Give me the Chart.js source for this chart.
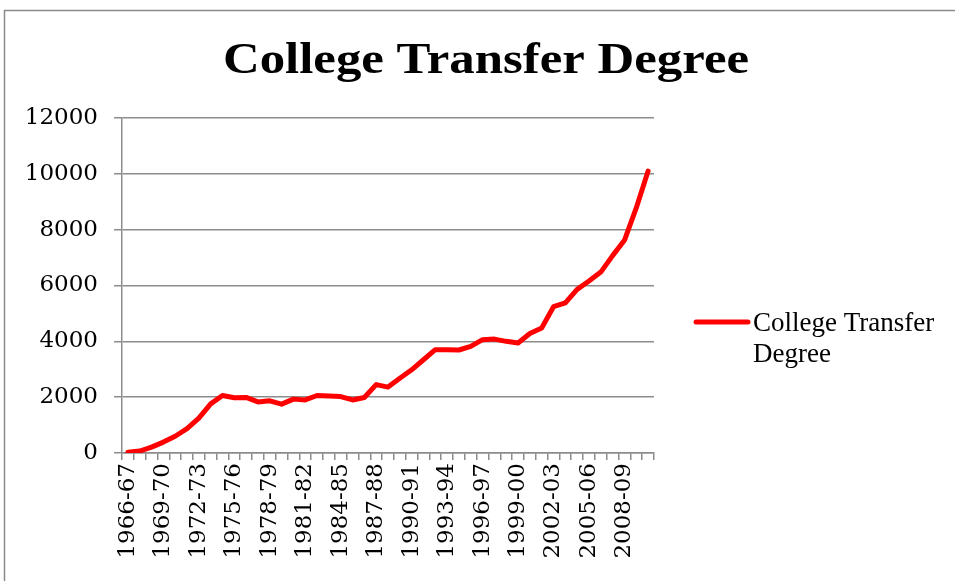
<!DOCTYPE html>
<html>
<head>
<meta charset="utf-8">
<script src="https://cdn.jsdelivr.net/npm/chart.js@4/dist/chart.umd.min.js"></script>
<style>
html,body{margin:0;padding:0;background:#fff;}
#wrap{position:absolute;left:0;top:0;width:955px;height:581px;}
</style>
</head>
<body>
<div id="wrap"><canvas id="c" width="955" height="581"></canvas></div>
<script>
const chartTitle = "College Transfer Degree";
const seriesName = "College Transfer Degree";
const legendLines = ["College Transfer", "Degree"];
const categories = [
 "1966-67","1967-68","1968-69","1969-70","1970-71","1971-72","1972-73","1973-74","1974-75",
 "1975-76","1976-77","1977-78","1978-79","1979-80","1980-81","1981-82","1982-83","1983-84",
 "1984-85","1985-86","1986-87","1987-88","1988-89","1989-90","1990-91","1991-92","1992-93",
 "1993-94","1994-95","1995-96","1996-97","1997-98","1998-99","1999-00","2000-01","2001-02",
 "2002-03","2003-04","2004-05","2005-06","2006-07","2007-08","2008-09","2009-10","2010-11"
];
const values = [
 30, 70, 210, 390, 600, 870, 1250, 1760, 2060,
 1980, 1990, 1830, 1870, 1750, 1930, 1900, 2060, 2040,
 2020, 1900, 1990, 2450, 2360, 2680, 2980, 3340, 3700,
 3700, 3690, 3820, 4060, 4080, 4000, 3940, 4280, 4480,
 5240, 5380, 5860, 6160, 6480, 7070, 7620, 8780, 10100
];
const yTicks = [0, 2000, 4000, 6000, 8000, 10000, 12000];

const GRID = '#8c8c8c';

const decor = {
  id: 'decor',
  beforeDraw(chart) {
    const ctx = chart.ctx;
    ctx.save();
    ctx.fillStyle = '#fff';
    ctx.fillRect(0, 0, chart.width, chart.height);
    ctx.strokeStyle = '#8a8a8a';
    ctx.lineWidth = 1.5;
    ctx.strokeRect(4.5, 10.5, 1000, 700);
    ctx.restore();
  },
  afterDraw(chart) {
    const ctx = chart.ctx;
    ctx.save();
    // title
    ctx.fillStyle = '#000';
    ctx.font = 'bold 45px "Liberation Serif"';
    ctx.textAlign = 'center';
    ctx.textBaseline = 'alphabetic';
    ctx.translate(486, 73);
    ctx.scale(1.13, 1);
    ctx.fillText(chartTitle, 0, 0);
    ctx.setTransform(1, 0, 0, 1, 0, 0);
    // legend
    ctx.strokeStyle = chart.data.datasets[0].borderColor;
    ctx.lineWidth = 5;
    ctx.lineCap = 'round';
    ctx.beginPath();
    ctx.moveTo(696, 322);
    ctx.lineTo(748, 322);
    ctx.stroke();
    ctx.font = '27px "Liberation Serif"';
    ctx.textAlign = 'left';
    ctx.fillText(legendLines[0], 753, 331);
    ctx.fillText(legendLines[1], 753, 362);
    ctx.restore();
  }
};

new Chart(document.getElementById('c'), {
  type: 'line',
  data: {
    labels: categories,
    datasets: [{
      label: seriesName,
      data: values,
      borderColor: '#ff0000',
      borderWidth: 5,
      pointRadius: 0,
      tension: 0,
      fill: false,
      borderJoinStyle: 'round',
      borderCapStyle: 'round'
    }]
  },
  options: {
    responsive: false,
    animation: false,
    devicePixelRatio: 1,
    layout: { padding: { left: 0, top: 118, right: 301, bottom: 0 } },
    plugins: { legend: { display: false }, title: { display: false }, tooltip: { enabled: false } },
    scales: {
      x: {
        type: 'category',
        offset: true,
        grid: { display: true, drawOnChartArea: false, drawTicks: true, tickLength: 7, offset: true, color: GRID, lineWidth: 1.5 },
        border: { display: true, color: GRID, width: 1.5 },
        ticks: {
          autoSkip: false, maxRotation: 90, minRotation: 90, padding: 3,
          color: '#000', font: { family: '"DejaVu Serif"', size: 23 },
          callback: function(v, i) { return i % 3 === 0 ? categories[i] : ''; }
        },
        afterFit(scale) { scale.height = 128; }
      },
      y: {
        min: 0, max: 12000,
        afterBuildTicks(scale) { scale.ticks = yTicks.map(v => ({ value: v })); },
        grid: { color: GRID, lineWidth: 1.5, drawTicks: true, tickLength: 8 },
        border: { display: true, color: GRID, width: 1.5 },
        ticks: { color: '#000', padding: 16, font: { family: '"DejaVu Serif"', size: 23 },
          callback: function(v) { return String(v); } },
        afterFit(scale) { scale.width = 122; }
      }
    }
  },
  plugins: [decor]
});
</script>
</body>
</html>
